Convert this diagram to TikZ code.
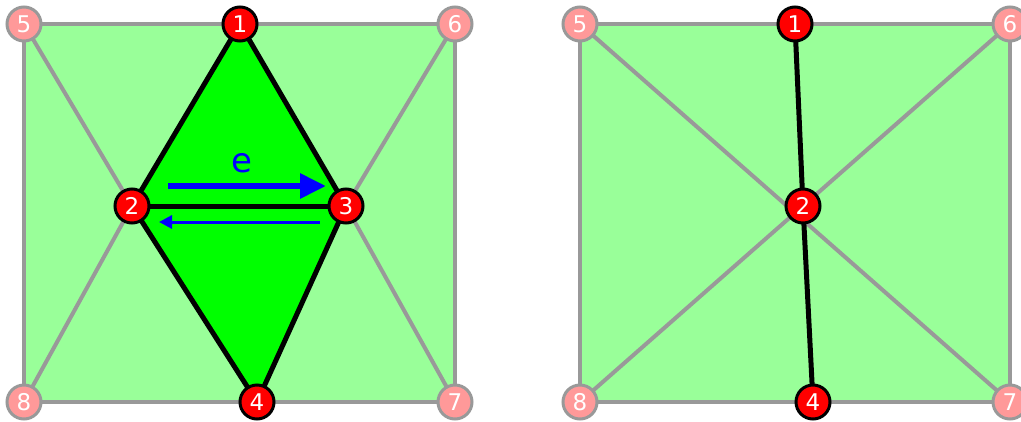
\documentclass[tikz,border=0pt]{standalone}
\usepackage{fontspec}
\setmainfont{DejaVu Sans}
\usetikzlibrary{arrows.meta}
\definecolor{lgreen}{HTML}{99FF99}
\definecolor{bgreen}{HTML}{00FF00}
\definecolor{gedge}{HTML}{999999}
\definecolor{pinkn}{HTML}{FF9999}
\definecolor{eblue}{HTML}{0000FF}
\tikzset{
  vtx/.style={circle, fill=red, draw=black, line width=3pt, minimum size=34pt, inner sep=0pt, text=white, font=\fontsize{23}{23}\selectfont},
  gvtx/.style={circle, fill=pinkn, draw=gedge, line width=3pt, minimum size=34pt, inner sep=0pt, text=white, font=\fontsize{23}{23}\selectfont},
  gline/.style={draw=gedge, line width=4pt},
  bline/.style={draw=black, line width=5pt, line join=round},
}
\begin{document}
\begin{tikzpicture}[x=1pt,y=-1pt]
\useasboundingbox (0,0) rectangle (1021,421);
\clip (0,0) rectangle (1021,421);
% left
\coordinate (L5) at (24,24);
\coordinate (L6) at (455,24);
\coordinate (L7) at (455,402);
\coordinate (L8) at (24,402);
\coordinate (L1) at (240,24);
\coordinate (L2) at (132,206);
\coordinate (L3) at (346,206);
\coordinate (L4) at (257,402);
\fill[lgreen] (L5) rectangle (L7);
\draw[gline] (L5) -- (L6) -- (L7) -- (L8) -- cycle;
\draw[gline] (L5) -- (L2) -- (L8);
\draw[gline] (L6) -- (L3) -- (L7);
\fill[bgreen] (L1) -- (L2) -- (L4) -- (L3) -- cycle;
\draw[bline] (L1) -- (L2) -- (L4) -- (L3) -- cycle;
\draw[bline] (L2) -- (L3);
\coordinate (a1s) at (168,186);
\coordinate (a1e) at (326,186);
\coordinate (a2s) at (320,222);
\coordinate (a2e) at (159,222);
\draw[eblue, line width=6pt, -{Triangle[length=26pt,width=24pt]}] (a1s) -- (a1e);
\draw[eblue, line width=3pt, -{Triangle[length=13pt,width=13pt]}] (a2s) -- (a2e);
\node[text=eblue, font=\fontsize{34}{34}\selectfont, inner sep=0pt] (elab) at (242,163) {e};
\node[gvtx] (n5) at (L5) {5};
\node[gvtx] (n6) at (L6) {6};
\node[gvtx] (n7) at (L7) {7};
\node[gvtx] (n8) at (L8) {8};
\node[vtx] (n1) at (L1) {1};
\node[vtx] (n2) at (L2) {2};
\node[vtx] (n3) at (L3) {3};
\node[vtx] (n4) at (L4) {4};
% right
\coordinate (R5) at (580,24);
\coordinate (R6) at (1010,24);
\coordinate (R7) at (1010,402);
\coordinate (R8) at (580,402);
\coordinate (R1) at (795,24);
\coordinate (R2) at (803,206);
\coordinate (R4) at (813,402);
\fill[lgreen] (R5) rectangle (R7);
\draw[gline] (R5) -- (R6) -- (R7) -- (R8) -- cycle;
\draw[gline] (R5) -- (R7);
\draw[gline] (R6) -- (R8);
\draw[bline] (R1) -- (R2) -- (R4);
\node[gvtx] (m5) at (R5) {5};
\node[gvtx] (m6) at (R6) {6};
\node[gvtx] (m7) at (R7) {7};
\node[gvtx] (m8) at (R8) {8};
\node[vtx] (m1) at (R1) {1};
\node[vtx] (m2) at (R2) {2};
\node[vtx] (m4) at (R4) {4};
\end{tikzpicture}
\end{document}
